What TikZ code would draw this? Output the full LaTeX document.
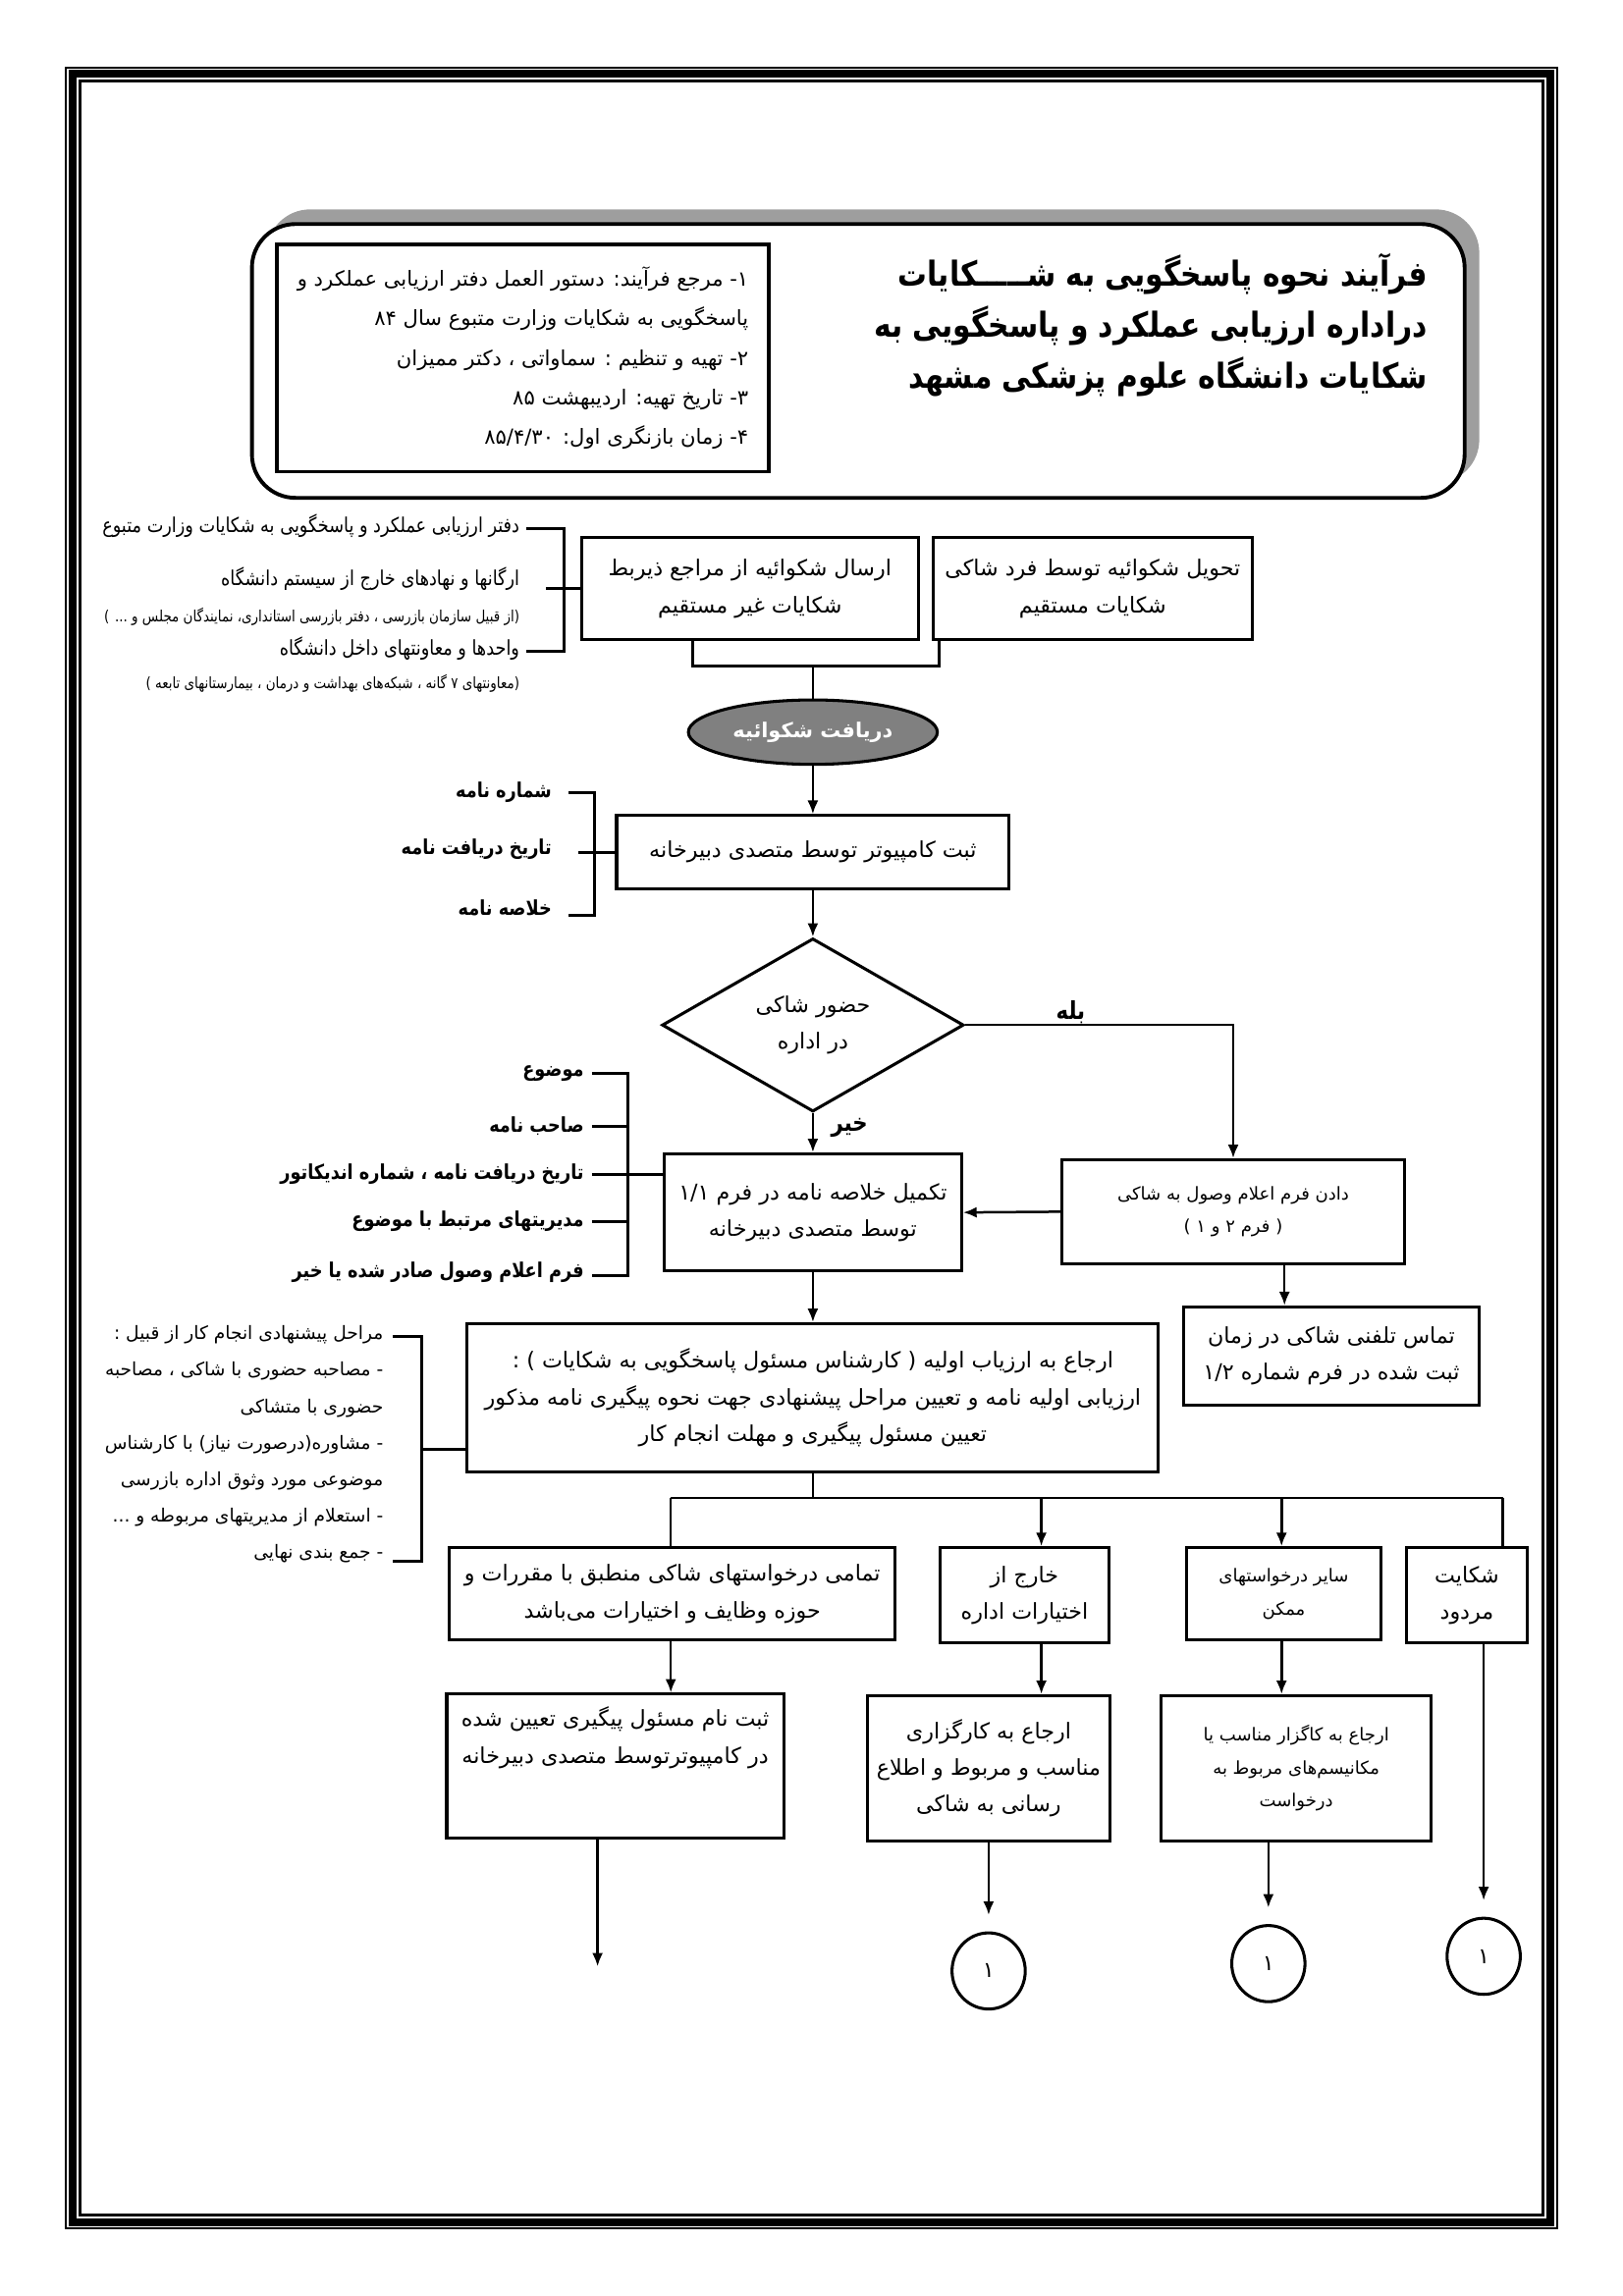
\documentclass[tikz,border=0pt]{standalone}
\usepackage{fontspec}
\usetikzlibrary{positioning,arrows.meta,shapes.geometric}
\newfontfamily\arabicfont[Script=Arabic]{DejaVu Sans}
\newfontfamily\arabicnarrow[Script=Arabic, FakeStretch=0.85]{DejaVu Sans}
\TeXXeTstate=1
\newcommand{\fa}[1]{\beginR #1\endR}
\newcommand{\lnum}[1]{\beginL #1\endL{}}
\def\pu{0.5373pt}
\newcommand{\boxfont}{\arabicfont\fontsize{8}{13.5}\selectfont}
\newcommand{\smallboxfont}{\arabicfont\fontsize{6.5}{12}\selectfont}
\newcommand{\notefont}{\arabicnarrow\fontsize{7.5}{9}\selectfont}
\newcommand{\tinynotefont}{\arabicnarrow\fontsize{5.7}{7}\selectfont}
\newcommand{\labfont}{\arabicnarrow\bfseries\fontsize{7.5}{9}\selectfont}
\newcommand{\answerfont}{\arabicnarrow\bfseries\fontsize{9}{10}\selectfont}
\newcommand{\stepfont}{\arabicfont\fontsize{6.7}{13.4}\selectfont}
\newcommand{\infofont}{\arabicfont\fontsize{7.6}{14.5}\selectfont}
\newcommand{\titlefont}{\arabicnarrow\bfseries\fontsize{12.6}{18.8}\selectfont}

\begin{document}
\begin{tikzpicture}[x=0.5373pt, y=-0.5373pt,
    box/.style={draw, line width=1.1pt, inner sep=1pt, align=center, font=\boxfont},
    sz/.style 2 args={minimum width=#1*\pu, minimum height=#2*\pu},
    note/.style={anchor=east, inner sep=0pt, font=\notefont},
    lab/.style={anchor=east, inner sep=0pt, font=\labfont},
    link/.style={line width=0.9pt},
    arrow/.style={link, -{Latex[length=5pt,width=4pt]}},
    brk/.style={line width=1.1pt},
    endmark/.style={draw, ellipse, line width=1.1pt, sz={50}{52}, inner sep=0pt, font=\boxfont}]
    \useasboundingbox (0,0) rectangle (1108,1568);

    % page frame
    \draw[line width=0.7pt] (45,46) rectangle (1063,1522);
    \draw[line width=2.9pt] (49.3,50.3) rectangle (1058.7,1517.7);
    \draw[line width=1.1pt] (54.6,55.6) rectangle (1053.4,1512.4);

    % header
    \fill[black!38, rounded corners=16pt] (182,143) rectangle (1010,330);
    \draw[line width=1.4pt, fill=white, rounded corners=16pt] (172,153) rectangle (1000,340);
    \node[draw, line width=1.3pt, sz={336}{155}, align=right, font=\infofont, inner sep=0pt] (info) at (357,244.5) {%
        \fa{۱- مرجع فرآیند: دستور العمل دفتر ارزیابی عملکرد و}\\
        \fa{پاسخگویی به شکایات وزارت متبوع سال \lnum{۸۴}}\\
        \fa{۲- تهیه و تنظیم : سماواتی ، دکتر ممیزان}\\
        \fa{۳- تاریخ تهیه: اردیبهشت \lnum{۸۵}}\\
        \fa{۴- زمان بازنگری اول: \lnum{۸۵/۴/۳۰}}};
    \node[anchor=east, align=right, font=\titlefont, inner sep=0pt] (title) at (975,222) {%
        \fa{فرآیند نحوه پاسخگویی به شـــــکایات}\\
        \fa{دراداره ارزیابی عملکرد و پاسخگویی به}\\
        \fa{شکایات دانشگاه علوم پزشکی مشهد}};

    % sources of complaints
    \node[box, sz={230}{70}] (indirect) at (512,402) {\fa{ارسال شکوائیه از مراجع ذیربط}\\\fa{شکایات غیر مستقیم}};
    \node[box, sz={218}{70}] (direct) at (746,402) {\fa{تحویل شکوائیه توسط فرد شاکی}\\\fa{شکایات مستقیم}};

    \node[note] (src1) at (355,359) {\fa{دفتر ارزیابی عملکرد و پاسخگویی به شکایات وزارت متبوع}};
    \node[note] (src2) at (355,395) {\fa{ارگانها و نهادهای خارج از سیستم دانشگاه}};
    \node[note, font=\tinynotefont] (src2b) at (355,421) {\fa{(از قبیل سازمان بازرسی ، دفتر بازرسی استانداری، نمایندگان مجلس و ... )}};
    \node[note] (src3) at (355,443) {\fa{واحدها و معاونتهای داخل دانشگاه}};
    \node[note, font=\tinynotefont] (src3b) at (355,467) {\fa{(معاونتهای ۷ گانه ، شبکه‌های بهداشت و درمان ، بیمارستانهای تابعه )}};
    \draw[brk] (359,361) -- (385,361) -- (385,445) -- (359,445);
    \draw[brk] (373,402) -- (indirect.west);

    \coordinate (joinl) at (473,455);
    \coordinate (joinr) at (641,455);
    \coordinate (joinm) at (555,455);
    \draw[brk] (indirect.south -| joinl) -- (joinl) -- (joinr) -- (direct.south -| joinr);

    % receive
    \node[draw, ellipse, line width=1.1pt, fill=black!50, sz={170}{44}, inner sep=0pt,
          font=\arabicfont\bfseries\fontsize{7.5}{9}\selectfont, text=white] (receive) at (555,500) {\fa{دریافت شکوائیه}};
    \draw[link] (joinm) -- (receive.north);

    \node[box, sz={268}{50}] (record) at (555,582) {\fa{ثبت کامپیوتر توسط متصدی دبیرخانه}};
    \draw[arrow] (receive) -- (record);

    \node[lab] (rec1) at (377,541) {\fa{شماره نامه}};
    \node[lab] (rec2) at (377,580) {\fa{تاریخ دریافت نامه}};
    \node[lab] (rec3) at (377,620) {\fa{خلاصه نامه}};
    \draw[brk] (388,541) -- (406,541) -- (406,625) -- (388,625);
    \draw[brk] (395,582) -- (record.west);

    % decision
    \node[draw, diamond, line width=1.1pt, sz={206}{110}, inner sep=0pt, align=center, font=\boxfont] (dia) at (555,700)
        {\fa{حضور شاکی}\\\fa{در اداره}};
    \draw[arrow] (record) -- (dia);

    \node[box, sz={234}{71}, font=\smallboxfont] (form) at (842,827.5) {\fa{دادن فرم اعلام وصول به شاکی}\\\fa{( فرم ۲ و ۱ )}};
    \node[box, sz={203}{80}] (summary) at (555,828) {\fa{تکمیل خلاصه نامه در فرم \lnum{۱/۱}}\\\fa{توسط متصدی دبیرخانه}};
    \draw[arrow] (dia.east) -| (form.north);
    \node[font=\answerfont, inner sep=0pt] (yes) at (731,691) {\fa{بله}};
    \draw[arrow] (dia.south) -- (summary.north);
    \node[font=\answerfont, inner sep=0pt] (no) at (580,770) {\fa{خیر}};
    \draw[arrow] (form.west) -- (summary.east);

    \node[box, sz={202}{67}] (phone) at (909,926) {\fa{تماس تلفنی شاکی در زمان}\\\fa{ثبت شده در فرم شماره \lnum{۱/۲}}};
    \coordinate (phonex) at (877,880);
    \draw[arrow] (form.south -| phonex) -- (phone.north -| phonex);

    \node[lab] (sum1) at (399,733) {\fa{موضوع}};
    \node[lab] (sum2) at (399,769) {\fa{صاحب نامه}};
    \node[lab] (sum3) at (399,802) {\fa{تاریخ دریافت نامه ، شماره اندیکاتور}};
    \node[lab] (sum4) at (399,834) {\fa{مدیریتهای مرتبط با موضوع}};
    \node[lab] (sum5) at (399,869) {\fa{فرم اعلام وصول صادر شده یا خیر}};
    \draw[brk] (404,733) -- (429,733) -- (429,871) -- (404,871);
    \foreach \yy in {769,834} {
        \draw[brk] (404,\yy) -- (429,\yy);
    }
    \coordinate (sumtick) at (404,802);
    \draw[brk] (sumtick) -- (summary.west |- sumtick);

    % first assessment
    \node[box, sz={472}{101}] (assess) at (555,954.5) {%
        \fa{ارجاع به ارزیاب اولیه ( کارشناس مسئول پاسخگویی به شکایات ) :}\\
        \fa{ارزیابی اولیه نامه و تعیین مراحل پیشنهادی جهت نحوه پیگیری نامه مذکور}\\
        \fa{تعیین مسئول پیگیری و مهلت انجام کار}};
    \draw[arrow] (summary) -- (assess);

    \node[note, align=right, font=\stepfont, anchor=north east] (steps) at (262,905) {%
        \fa{مراحل پیشنهادی انجام کار از قبیل :}\\
        \fa{- مصاحبه حضوری با شاکی ، مصاحبه}\\
        \fa{حضوری با متشاکی}\\
        \fa{- مشاوره(درصورت نیاز) با کارشناس}\\
        \fa{موضوعی مورد وثوق اداره بازرسی}\\
        \fa{- استعلام از مدیریتهای مربوطه و ...}\\
        \fa{- جمع بندی نهایی}};
    \draw[brk] (268,913) -- (288,913) -- (288,1066) -- (268,1066);
    \coordinate (steptick) at (288,990);
    \draw[brk] (steptick) -- (assess.west |- steptick);

    % branches
    \coordinate (bus) at (555,1023);
    \coordinate (busl) at (458,1023);
    \coordinate (busr) at (1026,1023);
    \draw[link] (assess.south) -- (assess.south |- bus);
    \draw[link] (busl) -- (busr);

    \node[box, sz={304}{63}] (within) at (459,1088.5) {\fa{تمامی درخواستهای شاکی منطبق با مقررات و}\\\fa{حوزه وظایف و اختیارات می‌باشد}};
    \node[box, sz={115}{65}] (outside) at (699.5,1089.5) {\fa{خارج از}\\\fa{اختیارات اداره}};
    \node[box, sz={133}{63}, font=\smallboxfont] (other) at (876.5,1088.5) {\fa{سایر درخواستهای}\\\fa{ممکن}};
    \node[box, sz={83}{65}] (reject) at (1001.5,1089.5) {\fa{شکایت}\\\fa{مردود}};

    \coordinate (outx) at (711,1023);
    \coordinate (othx) at (875,1023);
    \draw[link] (busl) -- (within.north -| busl);
    \draw[arrow] (outx) -- (outside.north -| outx);
    \draw[arrow] (othx) -- (other.north -| othx);
    \draw[link] (busr) -- (reject.north -| busr);

    \node[box, sz={230}{98}] (regname) at (420,1206) {};
    \node[inner sep=0pt, align=center, font=\boxfont, below=5pt of regname.north] (regtext)
        {\fa{ثبت نام مسئول پیگیری تعیین شده}\\\fa{در کامپیوترتوسط متصدی دبیرخانه}};
    \node[box, sz={166}{99}] (agent) at (675,1207.5) {\fa{ارجاع به کارگزاری}\\\fa{مناسب و مربوط و اطلاع}\\\fa{رسانی به شاکی}};
    \node[box, sz={184}{99}, font=\smallboxfont] (mech) at (885,1207.5) {\fa{ارجاع به کاگزار مناسب یا}\\\fa{مکانیسم‌های مربوط به}\\\fa{درخواست}};

    \draw[arrow] (within.south -| busl) -- (regname.north -| busl);
    \draw[arrow] (outside.south -| outx) -- (agent.north -| outx);
    \draw[arrow] (other.south -| othx) -- (mech.north -| othx);

    % connectors to next page
    \node[endmark] (c1) at (675,1346) {۱};
    \node[endmark] (c2) at (866,1341) {۱};
    \node[endmark] (c3) at (1013,1336) {۱};
    \coordinate (regend) at (408,1343);
    \draw[arrow] (regname.south -| regend) -- (regend);
    \draw[arrow, shorten >=6pt] (agent.south -| c1) -- (c1.north);
    \draw[arrow, shorten >=6pt] (mech.south -| c2) -- (c2.north);
    \draw[arrow, shorten >=6pt] (reject.south -| c3) -- (c3.north);
\end{tikzpicture}
\end{document}
